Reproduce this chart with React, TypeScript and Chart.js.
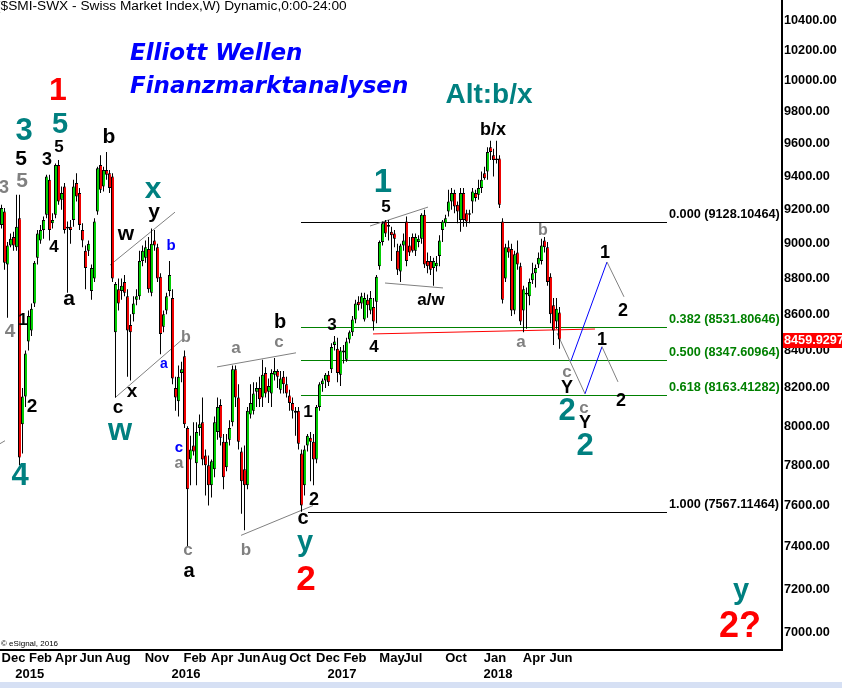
import React, { useEffect, useRef } from 'react';
import { Chart, registerables } from 'chart.js';

Chart.register(...registerables);

// ---- weekly SMI candles ----
const opens = [
  9110, 9190, 8880, 8990, 9040, 8980, 9150, 8010, 8155, 8450, 8510, 8660, 8920, 9020, 9080, 9170, 9380, 9120, 9170, 9470,
  9260, 9340, 9100, 9100, 9140, 9360, 9300, 9080, 8960, 8960, 8730, 8800, 9190, 9470, 9340, 9440, 9420, 9400, 8500, 8740,
  8730, 8780, 8700, 8540, 8600, 8680, 8700, 8900, 8920, 8970, 8720, 9020, 8980, 8810, 8530, 8620, 8730, 8690, 8200, 8130,
  8280, 8370, 7990, 7830, 7900, 7810, 7990, 8020, 7850, 7800, 7700, 7780, 7970, 8110, 7920, 7790, 7930, 8020, 8300, 8150,
  7870, 7780, 7700, 8060, 8080, 8180, 8200, 8150, 8280, 8180, 8170, 8270, 8290, 8190, 8260, 8220, 8160, 8120, 8080, 8080,
  7860, 7700, 7900, 7940, 7920, 7830, 8100, 8220, 8240, 8270, 8300, 8430, 8410, 8270, 8390, 8350, 8460, 8500, 8570, 8670,
  8660, 8570, 8680, 8620, 8640, 8670, 8870, 9010, 9130, 9110, 9070, 9060, 8960, 8840, 8990, 9130, 8990, 9040, 8960, 9010,
  9030, 9170, 8900, 8900, 8860, 8870, 8930, 9080, 9120, 9190, 9250, 9300, 9230, 9140, 9300, 9180, 9170, 9250, 9300, 9290,
  9330, 9420, 9430, 9580, 9530, 9510, 9510, 9130, 8800, 8980, 8970, 8620, 8950, 8870, 8620, 8710, 8700, 8790, 8830, 8880,
  8900, 9020, 8980, 8810, 8650, 8560, 8610,
];
const highs = [
  9230, 9210, 9010, 9060, 9070, 9290, 9290, 8200, 8400, 8620, 8660, 8900, 9080, 9110, 9160, 9410, 9410, 9180, 9480, 9500,
  9340, 9360, 9130, 9140, 9380, 9420, 9330, 9120, 8990, 9020, 8880, 9150, 9460, 9530, 9460, 9550, 9440, 9420, 8780, 8800,
  8800, 8820, 8740, 8600, 8700, 8740, 8960, 8990, 9020, 9040, 9090, 9080, 9000, 8830, 8620, 8720, 8900, 8740, 8260, 8320,
  8340, 8400, 8000, 7950, 8020, 8020, 8060, 8150, 7880, 7850, 7830, 8050, 8150, 8140, 7960, 7960, 8030, 8320, 8320, 8220,
  7890, 7900, 8100, 8220, 8230, 8230, 8260, 8350, 8310, 8250, 8300, 8360, 8300, 8290, 8290, 8260, 8190, 8150, 8100, 8100,
  7880, 7900, 7960, 7970, 7960, 8110, 8230, 8250, 8280, 8290, 8440, 8480, 8470, 8420, 8430, 8470, 8510, 8590, 8680, 8700,
  8720, 8720, 8710, 8730, 8690, 8820, 9020, 9130, 9140, 9140, 9100, 9080, 9000, 9000, 9060, 9160, 9040, 9060, 9060, 9050,
  9180, 9200, 8950, 8930, 8920, 8930, 9050, 9140, 9170, 9320, 9330, 9320, 9250, 9330, 9330, 9200, 9200, 9330, 9320, 9380,
  9430, 9460, 9580, 9620, 9570, 9620, 9530, 9150, 9000, 9020, 9000, 8960, 9020, 8890, 8760, 8750, 8800, 8890, 8880, 8950,
  9030, 9040, 9010, 8830, 8690, 8690, 8640,
];
const lows = [
  9090, 8850, 8580, 8980, 8960, 8960, 7800, 7860, 8100, 8400, 8480, 8640, 8880, 9000, 9030, 9150, 9020, 9090, 9150, 9230,
  9200, 9060, 8720, 9000, 9100, 9250, 9080, 8980, 8740, 8930, 8680, 8780, 9170, 9300, 9310, 9380, 9300, 8780, 8150, 8620,
  8680, 8700, 8260, 8240, 8560, 8650, 8680, 8870, 8890, 8720, 8700, 8960, 8780, 8380, 8500, 8600, 8700, 8220, 8080, 8050,
  8230, 7990, 7400, 7700, 7850, 7700, 7950, 7800, 7650, 7600, 7640, 7740, 7930, 7900, 7680, 7770, 7900, 8000, 8100, 7880,
  7560, 7480, 7680, 8040, 8060, 8100, 8100, 8100, 8150, 8120, 8100, 8240, 8200, 8170, 8170, 8150, 8080, 8040, 7950, 7880,
  7570, 7650, 7870, 7720, 7700, 7810, 8080, 8180, 8200, 8210, 8280, 8400, 8230, 8210, 8330, 8340, 8440, 8480, 8550, 8620,
  8630, 8560, 8580, 8600, 8510, 8550, 8850, 8990, 9040, 9020, 8900, 8980, 8820, 8780, 8960, 8870, 8930, 8950, 8930, 8980,
  9000, 8860, 8830, 8820, 8760, 8840, 8870, 9010, 9100, 9160, 9200, 9180, 9120, 9070, 9100, 9100, 9120, 9180, 9250, 9260,
  9300, 9380, 9380, 9500, 9400, 9480, 9210, 8660, 8780, 8920, 8590, 8600, 8850, 8540, 8500, 8520, 8650, 8770, 8750, 8860,
  8880, 8950, 8760, 8550, 8430, 8520, 8410,
];
const closes = [
  9210, 8890, 8990, 9030, 8990, 9100, 7840, 8155, 8385, 8590, 8630, 8890, 9060, 9080, 9140, 9400, 9080, 9140, 9470, 9250,
  9300, 9080, 9090, 9080, 9340, 9280, 9110, 9020, 8860, 9000, 8860, 9130, 9450, 9320, 9440, 9410, 9330, 8800, 8770, 8660,
  8760, 8720, 8510, 8500, 8660, 8700, 8900, 8960, 8980, 8740, 9000, 8990, 8800, 8490, 8600, 8700, 8820, 8250, 8150, 8260,
  8300, 8010, 7680, 7880, 7870, 7970, 8010, 7830, 7800, 7700, 7820, 8020, 8100, 7940, 7740, 7920, 7990, 8300, 8150, 7920,
  7720, 7700, 8080, 8120, 8170, 8200, 8140, 8270, 8170, 8210, 8280, 8290, 8260, 8250, 8220, 8170, 8120, 8080, 8070, 7910,
  7600, 7880, 7950, 7920, 7830, 8100, 8220, 8240, 8270, 8230, 8420, 8450, 8280, 8400, 8400, 8450, 8500, 8570, 8660, 8650,
  8700, 8690, 8650, 8690, 8560, 8810, 9010, 9120, 9060, 9100, 9050, 9030, 8850, 8990, 9020, 8900, 8950, 8960, 9040, 9030,
  9170, 8880, 8870, 8850, 8900, 8890, 9020, 9130, 9150, 9250, 9300, 9220, 9190, 9300, 9140, 9130, 9180, 9310, 9270, 9330,
  9380, 9390, 9550, 9550, 9500, 9500, 9230, 8680, 8980, 8950, 8620, 8940, 8880, 8560, 8740, 8720, 8780, 8830, 8860, 8920,
  8990, 8980, 8780, 8600, 8510, 8630, 8460,
];

// ---- axis ticks ----
const monthTickPos = [4.0, 13.0, 21.5, 29.83, 38.83, 51.83, 64.5, 73.5, 82.5, 90.83, 99.5, 108.83, 117.83, 130.17, 137.17, 151.5, 164.5, 177.5, 186.5];
const monthLabels = ['Dec', 'Feb', 'Apr', 'Jun', 'Aug', 'Nov', 'Feb', 'Apr', 'Jun', 'Aug', 'Oct', 'Dec', 'Feb', 'May', 'Jul', 'Oct', 'Jan', 'Apr', 'Jun'];
const yearTickPos = [9.4, 61.5, 113.5, 165.5];
const yearLabels = ['2015', '2016', '2017', '2018'];
const priceTicks = [7000, 7200, 7400, 7600, 7800, 8000, 8200, 8400, 8600, 8800, 9000, 9200, 9400, 9600, 9800, 10000, 10200, 10400];

// ---- Fibonacci retracement ----
const fibRatios = ['0.000', '0.382', '0.500', '0.618', '1.000'];
const fibLevels = [9128.10464, 8531.80646, 8347.60964, 8163.41282, 7567.11464];
const lastPrice = 8459.9297;

const BLACK = '#000000';
const TEAL = '#008080';
const RED = '#ff0000';
const GRAY = '#808080';
const BLUE = '#0000ff';
const GREEN = '#008000';

// wave labels: text, week index, price (baseline), colour, font size
const waveLabels: [string, number, number, string, number][] = [
  ['3', 0.83, 9300, GRAY, 18],
  ['5', 6.83, 9336, GRAY, 21],
  ['5', 6.5, 9469, BLACK, 21],
  ['3', 7.5, 9624, TEAL, 31],
  ['1', 18.83, 9876, RED, 32],
  ['5', 19.5, 9668, TEAL, 29],
  ['3', 15.17, 9469, BLACK, 18],
  ['5', 19.17, 9551, BLACK, 17],
  ['b', 35.83, 9605, BLACK, 21],
  ['x', 50.5, 9270, TEAL, 30],
  ['y', 50.83, 9150, BLACK, 21],
  ['w', 41.5, 9022, BLACK, 21],
  ['b', 56.5, 8964, BLUE, 15],
  ['4', 17.5, 8952, BLACK, 17],
  ['a', 22.5, 8652, BLACK, 21],
  ['4', 2.83, 8475, GRAY, 19],
  ['1', 7.17, 8540, BLACK, 17],
  ['2', 10.17, 8075, BLACK, 19],
  ['4', 6.17, 7704, TEAL, 31],
  ['c', 38.83, 8069, BLACK, 19],
  ['x', 43.5, 8153, BLACK, 19],
  ['w', 39.5, 7930, TEAL, 31],
  ['a', 54.17, 8307, BLUE, 14],
  ['b', 61.5, 8448, GRAY, 16],
  ['c', 59.17, 7869, BLUE, 15],
  ['a', 59.17, 7789, GRAY, 16],
  ['c', 62.17, 7361, GRAY, 17],
  ['a', 62.5, 7257, BLACK, 20],
  ['b', 81.5, 7361, GRAY, 17],
  ['a', 78.17, 8388, GRAY, 17],
  ['c', 92.5, 8421, GRAY, 17],
  ['b', 92.83, 8524, BLACK, 20],
  ['1', 102.17, 8048, BLACK, 17],
  ['3', 110.17, 8513, BLACK, 17],
  ['4', 124.17, 8393, BLACK, 17],
  ['2', 104.17, 7605, BLACK, 18],
  ['c', 100.5, 7508, BLACK, 20],
  ['y', 101.17, 7378, TEAL, 29],
  ['2', 101.5, 7196, RED, 35],
  ['1', 127.17, 9306, TEAL, 33],
  ['5', 128.17, 9186, BLACK, 17],
  ['a/w', 143.17, 8652, BLACK, 17],
  ['b/x', 163.83, 9656, BLACK, 18],
  ['Alt:b/x', 162.5, 9857, TEAL, 28],
  ['b', 180.5, 9051, GRAY, 16],
  ['a', 173.17, 8421, GRAY, 17],
  ['1', 201.17, 8918, BLACK, 18],
  ['2', 207.17, 8591, BLACK, 18],
  ['1', 200.17, 8432, BLACK, 18],
  ['2', 206.5, 8106, BLACK, 18],
  ['c', 188.5, 8259, GRAY, 17],
  ['Y', 188.5, 8174, BLACK, 18],
  ['2', 188.5, 8033, TEAL, 31],
  ['c', 194.17, 8069, GRAY, 17],
  ['Y', 194.5, 7991, BLACK, 18],
  ['2', 194.5, 7854, TEAL, 31],
  ['y', 246.5, 7156, TEAL, 29],
  ['2?', 246.17, 6981, RED, 36],
];

// trend / projection lines: from (week, price) to (week, price)
const trendLines: [number, number, number, number, string][] = [
  [36.17, 8877, 57.83, 9186, GRAY],
  [37.83, 8148, 60.5, 8464, GRAY],
  [-0.5, 7910, 1.17, 7925, GRAY],
  [71.83, 8312, 98.17, 8388, GRAY],
  [79.83, 7455, 103.83, 7600, GRAY],
  [122.83, 9104, 142.17, 9216, GRAY],
  [127.83, 8775, 147.17, 8747, GRAY],
  [123.83, 8491, 197.83, 8518, RED],
  [185.17, 8496, 194.5, 8169, GRAY],
  [189.83, 8345, 201.83, 8895, BLUE],
  [201.83, 8895, 207.5, 8697, GRAY],
  [194.5, 8169, 200.17, 8421, BLUE],
  [200.17, 8421, 205.5, 8232, GRAY],
];
const fibStart = [99.83, 99.83, 99.83, 99.83, 102.17];
const fibEnd = 221.83;
const fibLabelPos = 222.5;

const FONT = '"Liberation Sans", Arial, Helvetica, sans-serif';

const annotationPlugin = {
  id: 'elliottAnnotations',
  beforeDatasetsDraw(chart: any) {
    const ctx = chart.ctx;
    const xs = chart.scales.x;
    const ys = chart.scales.y;
    ctx.save();
    fibLevels.forEach((lvl, k) => {
      const y = Math.round(ys.getPixelForValue(lvl)) + 0.5;
      ctx.strokeStyle = k === 0 || k === fibLevels.length - 1 ? BLACK : GREEN;
      ctx.lineWidth = 1;
      ctx.beginPath();
      ctx.moveTo(xs.getPixelForValue(fibStart[k]), y);
      ctx.lineTo(xs.getPixelForValue(fibEnd), y);
      ctx.stroke();
    });
    trendLines.forEach(([i1, p1, i2, p2, col]) => {
      ctx.strokeStyle = col;
      ctx.lineWidth = 1;
      ctx.beginPath();
      ctx.moveTo(xs.getPixelForValue(i1), ys.getPixelForValue(p1));
      ctx.lineTo(xs.getPixelForValue(i2), ys.getPixelForValue(p2));
      ctx.stroke();
    });
    ctx.restore();
  },
  afterDatasetsDraw(chart: any) {
    const ctx = chart.ctx;
    const xs = chart.scales.x;
    const ys = chart.scales.y;
    ctx.save();
    ctx.textBaseline = 'alphabetic';
    ctx.textAlign = 'left';
    ctx.font = `bold 12.7px ${FONT}`;
    fibLevels.forEach((lvl, k) => {
      ctx.fillStyle = k === 0 || k === fibLevels.length - 1 ? BLACK : GREEN;
      ctx.fillText(`${fibRatios[k]} (${lvl.toFixed(5)})`, xs.getPixelForValue(fibLabelPos), ys.getPixelForValue(lvl) - 4);
    });
    ctx.textAlign = 'center';
    waveLabels.forEach(([t, i, p, col, size]) => {
      ctx.font = `bold ${size}px ${FONT}`;
      ctx.fillStyle = col;
      ctx.fillText(t, xs.getPixelForValue(i), ys.getPixelForValue(p));
    });
    ctx.restore();
  },
  afterDraw(chart: any) {
    const ctx = chart.ctx;
    const ys = chart.scales.y;
    const area = chart.chartArea;
    ctx.save();
    ctx.fillStyle = BLACK;
    ctx.textAlign = 'left';
    ctx.textBaseline = 'alphabetic';
    ctx.font = `13.7px ${FONT}`;
    ctx.fillText('($SMI-SWX - Swiss Market Index,W) Dynamic,0:00-24:00', -4, 10);
    ctx.fillStyle = BLUE;
    ctx.font = 'italic bold 23px "DejaVu Sans", Verdana, sans-serif';
    ctx.fillText('Elliott Wellen', 130, 60);
    ctx.fillText('Finanzmarktanalysen', 130, 93);
    ctx.fillStyle = BLACK;
    ctx.font = `8px ${FONT}`;
    ctx.fillText('\u00a9 eSignal, 2016', 1, area.bottom - 4);
    const py = ys.getPixelForValue(lastPrice);
    ctx.fillStyle = '#ff0000';
    ctx.fillRect(area.right + 1, Math.round(py) - 7, chart.width - area.right - 1, 15);
    ctx.fillStyle = '#ffffff';
    ctx.font = `bold 12.7px ${FONT}`;
    ctx.textBaseline = 'middle';
    ctx.fillText(lastPrice.toFixed(4), area.right + 2, Math.round(py) + 0.5);
    ctx.fillStyle = '#d6e0f4';
    ctx.fillRect(0, chart.height - 6, chart.width, 6);
    ctx.restore();
  },
};

export default function App() {
  const canvasRef = useRef<HTMLCanvasElement | null>(null);

  useEffect(() => {
    const canvas = canvasRef.current;
    if (!canvas) return;
    const idx = closes.map((_, i) => i);
    const wickData = idx.map((i) => ({ x: i, y: [lows[i], highs[i]] }));
    const bodyData = idx.map((i) => ({ x: i, y: [Math.min(opens[i], closes[i]), Math.max(opens[i], closes[i])] }));
    const bodyColors = idx.map((i) => (closes[i] >= opens[i] ? '#00cc00' : '#ee0000'));
    const xTickValues = [...monthTickPos, ...yearTickPos];
    const xTickLabels: (string | string[])[] = [...monthLabels, ...yearLabels.map((y) => ['', y])];

    const chart = new Chart(canvas, {
      type: 'bar',
      data: {
        datasets: [
          {
            label: 'body',
            data: bodyData as any,
            backgroundColor: bodyColors,
            borderColor: '#000000',
            borderWidth: 1,
            borderSkipped: 'right',
            barThickness: 3,
            grouped: false,
            inflateAmount: 0,
            order: 1,
          } as any,
          {
            label: 'wick',
            data: wickData as any,
            backgroundColor: '#000000',
            borderWidth: 0,
            barThickness: 1,
            grouped: false,
            inflateAmount: 0,
            order: 2,
          } as any,
        ],
      },
      options: {
        animation: false,
        responsive: false,
        maintainAspectRatio: false,
        layout: { padding: 0 },
        plugins: {
          legend: { display: false },
          tooltip: { enabled: false },
          title: { display: false },
        },
        scales: {
          x: {
            type: 'linear',
            position: 'bottom',
            offset: false,
            min: -0.5,
            max: 260.1667,
            grid: { display: false, drawTicks: false, offset: false },
            border: { display: true, color: '#000000', width: 2 },
            ticks: {
              autoSkip: false,
              maxRotation: 0,
              minRotation: 0,
              padding: 0,
              color: '#000000',
              font: { family: FONT, size: 13, weight: 'bold', lineHeight: 1.25 },
              callback: (_v: any, i: number) => xTickLabels[i],
            },
            afterBuildTicks: (s: any) => {
              s.ticks = xTickValues.map((v) => ({ value: v }));
            },
            afterFit: (s: any) => {
              s.height = 38;
              s.paddingLeft = 0;
              s.paddingRight = 0;
            },
          } as any,
          y: {
            type: 'logarithmic',
            position: 'right',
            min: 6922.9,
            max: 10535.2,
            grid: { display: false, drawTicks: false },
            border: { display: true, color: '#000000', width: 2 },
            ticks: {
              autoSkip: false,
              padding: 2,
              color: '#000000',
              font: { family: FONT, size: 12.7, weight: 'bold' },
              callback: (v: any) => Number(v).toFixed(2),
            },
            afterBuildTicks: (s: any) => {
              s.ticks = priceTicks.map((v) => ({ value: v }));
            },
            afterFit: (s: any) => {
              s.width = 60;
              s.paddingTop = 0;
              s.paddingBottom = 0;
            },
          } as any,
        },
      },
      plugins: [annotationPlugin],
    });

    return () => chart.destroy();
  }, []);

  return (
    <div style={{ position: 'absolute', left: 0, top: 0, width: 842, height: 688, background: '#ffffff' }}>
      <canvas ref={canvasRef} width={842} height={688} style={{ display: 'block', width: 842, height: 688 }} />
    </div>
  );
}
